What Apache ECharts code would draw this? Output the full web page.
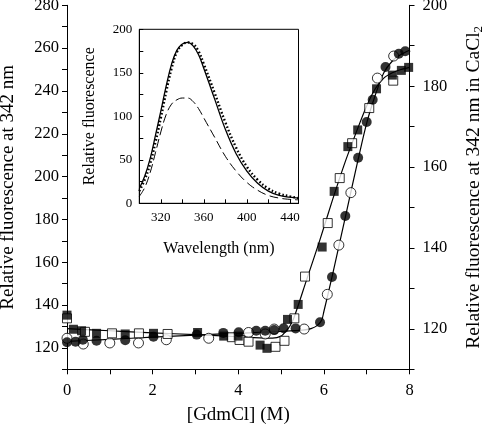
<!DOCTYPE html>
<html><head><meta charset="utf-8">
<script src="https://cdn.jsdelivr.net/npm/echarts@6/dist/echarts.min.js"></script>
<style>html,body{margin:0;padding:0;background:#fff}#c{width:482px;height:436px}</style>
</head><body><div id="c"></div>
<script>
// ---- main plot data (GdmCl molarity vs relative fluorescence) ----
const filledSquareX = [0, 0.15, 0.34, 0.69, 1.36, 2.02, 3.05, 3.66, 4.0, 4.51, 4.67, 5.15, 5.4, 5.96, 6.24, 6.56, 6.79, 7.23, 7.6, 7.81, 7.98];
const filledSquareY = [135.3, 128.7, 128.0, 126.8, 126.5, 126.8, 127.2, 125.5, 125.5, 121.3, 119.8, 133.3, 140.3, 167.1, 193.1, 214, 221.8, 241, 247.4, 249.6, 251];
const openSquareX = [0, 0.42, 1.05, 1.68, 2.35, 3.85, 4.03, 4.24, 4.87, 5.08, 5.31, 5.56, 6.09, 6.37, 6.66, 7.06, 7.62];
const openSquareY = [133.8, 127.5, 126.8, 126.8, 126.5, 125, 123.7, 122.9, 120.5, 123.3, 133.8, 153.3, 178.3, 199.3, 215.6, 232, 244.8];
const filledCircleX = [0, 0.2, 0.37, 0.69, 1.36, 2.02, 3.03, 3.65, 4.01, 4.42, 4.63, 4.84, 5.06, 5.34, 5.91, 6.19, 6.5, 6.8, 7.0, 7.14, 7.44, 7.75, 7.9];
const filledCircleY = [122.6, 122.9, 123.8, 123.3, 123.6, 125.2, 126.2, 127, 127.3, 128, 128, 128.3, 129.2, 129.1, 132, 153.1, 181.6, 208.8, 225.5, 235.9, 251.2, 257.4, 258.5];
const openCircleX = [0, 0.38, 1.0, 1.67, 2.32, 3.31, 4.24, 4.63, 4.84, 5.54, 6.08, 6.35, 6.63, 7.25, 7.63];
const openCircleY = [124.5, 121.8, 122.3, 122.3, 123.8, 124.5, 127.2, 126.5, 128.8, 128.8, 145, 168, 192.5, 246, 256.3];
// fitted curves
const squareFitX = [0, 1, 2, 3, 4, 4.5, 4.8, 5.0, 5.1, 5.2, 5.3, 5.6, 5.9, 6.2, 6.5, 6.8, 7.0, 7.2, 7.4, 7.6, 7.8, 8.0];
const squareFitY = [129, 128, 127, 126.2, 125.2, 124.7, 124.6, 125.5, 127.5, 130, 134, 152, 170, 189, 207, 223, 233, 241, 246, 248.5, 250, 251];
const circleFitX = [0, 1, 2, 3, 4, 4.5, 5, 5.5, 5.7, 5.85, 5.95, 6.0, 6.2, 6.5, 6.8, 7.0, 7.2, 7.4, 7.6, 7.8, 8.0];
const circleFitY = [123, 124, 125, 126, 126.8, 127.3, 127.7, 128.3, 129, 130.5, 133, 137, 154, 181, 208, 225, 238, 248.5, 254, 257, 259];
// ---- inset data (emission spectra) ----
const wavelengths = [300, 305, 310, 315, 320, 325, 330, 335, 340, 345, 350, 355, 360, 370, 380, 390, 400, 410, 420, 430, 440, 448];
const spectrumSolid = [17, 31, 51, 78, 106, 135, 160, 176, 183, 185, 181, 171, 155, 120, 85, 57, 37, 23, 14, 9, 7, 6];
const spectrumDotted = [14, 27, 45, 70, 98, 128, 155, 174, 182, 185, 183, 175, 160, 127, 93, 64, 42, 27, 17, 11, 8, 6];
const spectrumDashed = [8, 18, 35, 58, 82, 102, 114, 119, 121, 121, 117, 109, 98, 76, 54, 37, 24, 15, 9, 6, 4.5, 4];

const pairs = (xs, ys) => xs.map((x, i) => [x, ys[i]]);
const FONT = 'Liberation Serif';
const black = '#000';

const chart = echarts.init(document.getElementById('c'), null, {renderer: 'canvas'});
const lbl = (size, margin, fmt) => ({color: black, fontFamily: FONT, fontSize: size, margin: margin, formatter: fmt});

chart.setOption({
  animation: false,
  backgroundColor: '#fff',
  grid: [
    {left: 67, right: 72.5, top: 5.3, bottom: 66.7, containLabel: false, outerBoundsMode: 'none'},
    {left: 139.3, right: 183.5, top: 29.3, bottom: 232.7, show: true, borderColor: black, borderWidth: 1,
     backgroundColor: '#fff', z: 5, containLabel: false, outerBoundsMode: 'none'}
  ],
  xAxis: [
    {gridIndex: 0, type: 'value', min: 0, max: 8, interval: 1,
     axisLine: {lineStyle: {color: black, width: 1}, onZero: false},
     axisTick: {inside: false, length: 5, lineStyle: {color: black}},
     splitLine: {show: false},
     axisLabel: lbl(16.5, 13, v => (v % 2 === 0 ? String(v) : '')),
     name: '[GdmCl] (M)', nameLocation: 'middle', nameGap: 36,
     nameTextStyle: {color: black, fontFamily: FONT, fontSize: 19}},
    {gridIndex: 1, type: 'value', min: 300, max: 448, interval: 20, z: 6,
     axisLine: {lineStyle: {color: black, width: 1}, onZero: false},
     axisTick: {inside: true, length: 4, lineStyle: {color: black}},
     splitLine: {show: false},
     axisLabel: lbl(13, 8, v => (v % 40 === 0 ? String(v) : '')),
     name: 'Wavelength (nm)', nameLocation: 'middle', nameGap: 37,
     nameTextStyle: {color: black, fontFamily: FONT, fontSize: 16}}
  ],
  yAxis: [
    {gridIndex: 0, type: 'value', position: 'left', min: 110, max: 280, interval: 10,
     axisLine: {show: true, lineStyle: {color: black, width: 1}, onZero: false},
     axisTick: {show: true, inside: false, length: 5, lineStyle: {color: black}},
     splitLine: {show: false},
     axisLabel: lbl(16.5, 8, v => (v % 20 === 0 ? String(v) : '')),
     name: 'Relative fluorescence at 342 nm', nameLocation: 'middle', nameGap: 49, nameRotate: 90,
     nameTextStyle: {color: black, fontFamily: FONT, fontSize: 19}},
    {gridIndex: 0, type: 'value', position: 'right', min: 110, max: 200, interval: 10,
     axisLine: {show: true, lineStyle: {color: black, width: 1}, onZero: false},
     axisTick: {show: true, inside: false, length: 5, lineStyle: {color: black}},
     splitLine: {show: false},
     axisLabel: lbl(16.5, 13, v => (v % 20 === 0 ? String(v) : '')),
     name: 'Relative fluorescence at 342 nm in CaCl{s|2}', nameLocation: 'middle', nameGap: 53, nameRotate: 90,
     nameTextStyle: {color: black, fontFamily: FONT, fontSize: 19.5,
       rich: {s: {fontFamily: FONT, fontSize: 13, color: black, verticalAlign: 'bottom', padding: [10, 0, 0, 0]}}}},
    {gridIndex: 1, type: 'value', min: 0, max: 200, interval: 25, z: 6,
     axisLine: {show: true, lineStyle: {color: black, width: 1}, onZero: false},
     axisTick: {show: true, inside: true, length: 4, lineStyle: {color: black}},
     splitLine: {show: false},
     axisLabel: lbl(13, 7, v => (v % 50 === 0 ? String(v) : '')),
     name: 'Relative fluorescence', nameLocation: 'middle', nameGap: 42, nameRotate: 90,
     nameTextStyle: {color: black, fontFamily: FONT, fontSize: 16}}
  ],
  series: [
    {type: 'line', xAxisIndex: 0, yAxisIndex: 0, data: pairs(squareFitX, squareFitY), smooth: 0.3, showSymbol: false, symbol: 'none',
     lineStyle: {color: black, width: 1.2}, z: 2},
    {type: 'line', xAxisIndex: 0, yAxisIndex: 0, data: pairs(circleFitX, circleFitY), smooth: 0.3, showSymbol: false, symbol: 'none',
     lineStyle: {color: black, width: 1.2}, z: 2},
    {type: 'scatter', xAxisIndex: 0, yAxisIndex: 0, data: pairs(openCircleX, openCircleY), symbol: 'circle', symbolSize: 10,
     itemStyle: {color: '#fff', borderColor: black, borderWidth: 1}, z: 3},
    {type: 'scatter', xAxisIndex: 0, yAxisIndex: 0, data: pairs(openSquareX, openSquareY), symbol: 'rect', symbolSize: 9,
     itemStyle: {color: '#fff', borderColor: black, borderWidth: 1}, z: 3},
    {type: 'scatter', xAxisIndex: 0, yAxisIndex: 0, data: pairs(filledCircleX, filledCircleY), symbol: 'circle', symbolSize: 10,
     itemStyle: {color: black}, z: 4},
    {type: 'scatter', xAxisIndex: 0, yAxisIndex: 0, data: pairs(filledSquareX, filledSquareY), symbol: 'rect', symbolSize: 9,
     itemStyle: {color: black}, z: 4},
    {type: 'line', xAxisIndex: 1, yAxisIndex: 2, data: pairs(wavelengths, spectrumSolid), smooth: 0.4, symbol: 'none',
     lineStyle: {color: black, width: 1.3}, z: 7},
    {type: 'line', xAxisIndex: 1, yAxisIndex: 2, data: pairs(wavelengths, spectrumDotted), smooth: 0.4, symbol: 'none',
     lineStyle: {color: black, width: 2.4, type: [1.6, 2.2]}, z: 7},
    {type: 'line', xAxisIndex: 1, yAxisIndex: 2, data: pairs(wavelengths, spectrumDashed), smooth: 0.4, symbol: 'none',
     lineStyle: {color: black, width: 1, type: [9, 4]}, z: 7}
  ]
});
</script></body></html>
